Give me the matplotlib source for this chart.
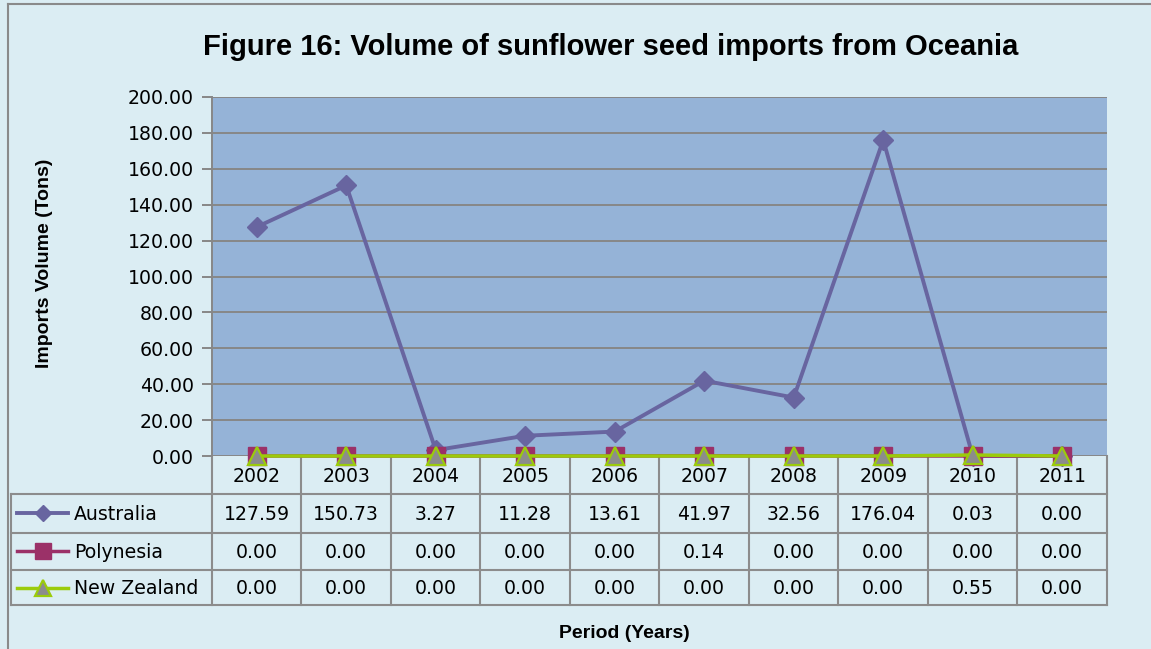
import matplotlib
matplotlib.use("Agg")
import matplotlib.pyplot as plt
from matplotlib.lines import Line2D
import numpy as np

# ---- data ----
years = ["2002", "2003", "2004", "2005", "2006", "2007", "2008", "2009", "2010", "2011"]
australia = [127.59, 150.73, 3.27, 11.28, 13.61, 41.97, 32.56, 176.04, 0.03, 0.00]
polynesia = [0.00, 0.00, 0.00, 0.00, 0.00, 0.14, 0.00, 0.00, 0.00, 0.00]
new_zealand = [0.00, 0.00, 0.00, 0.00, 0.00, 0.00, 0.00, 0.00, 0.55, 0.00]
series_names = ["Australia", "Polynesia", "New Zealand"]
y_ticks = [0, 20, 40, 60, 80, 100, 120, 140, 160, 180, 200]

title = "Figure 16: Volume of sunflower seed imports from Oceania"
ylabel = "Imports Volume (Tons)"
xlabel = "Period (Years)"

# ---- style ----
W, H = 1151, 649
BG = "#DBEDF3"
PLOT_BG = "#95B3D7"
GRID = "#878787"
C_AUS = "#6865A0"
C_POL = "#9B3168"
C_NZ = "#9BCB0B"
C_TRI = "#8C8C8C"
FONT = ["Liberation Sans", "DejaVu Sans"]
NUMFONT = ["DejaVu Sans"]
FS = 13.6
plt.rcParams["font.family"] = NUMFONT

fig = plt.figure(figsize=(W / 100, H / 100), dpi=100, facecolor=BG)

# pixel geometry
px_l, px_r, px_t, px_b = 212, 1107, 97, 456
ax = fig.add_axes([px_l / W, 1 - px_b / H, (px_r - px_l) / W, (px_b - px_t) / H])
ax.set_facecolor(PLOT_BG)
x = np.arange(len(years))
ax.set_xlim(-0.5, len(years) - 0.5)
ax.set_ylim(0, 200)
ax.set_yticks(y_ticks)
ax.set_yticklabels([f"{v:.2f}" for v in y_ticks], fontsize=FS)
ax.set_xticks([])
ax.yaxis.grid(True, color=GRID, linewidth=1.4)
ax.set_axisbelow(True)
ax.tick_params(axis="y", length=7, width=1.4, color=GRID, pad=6)
for s in ["top", "right", "bottom"]:
    ax.spines[s].set_visible(False)
ax.spines["left"].set_color(GRID)
ax.spines["left"].set_linewidth(1.4)

ax.plot(x, australia, color=C_AUS, lw=2.8, marker="D", ms=9.8, mfc=C_AUS, mec=C_AUS,
        clip_on=False, zorder=5)
ax.plot(x, polynesia, color=C_POL, lw=2.5, marker="s", ms=12.5, mfc=C_POL, mec=C_POL,
        clip_on=False, zorder=6)
ax.plot(x, new_zealand, color=C_NZ, lw=2.5, marker="^", ms=12.5, mfc=C_TRI, mec=C_NZ,
        mew=1.6, clip_on=False, zorder=7)

# ---- overlay axes in pixel coordinates ----
ov = fig.add_axes([0, 0, 1, 1], zorder=-1)
ov.set_xlim(0, W)
ov.set_ylim(H, 0)
ov.axis("off")
ov.patch.set_alpha(0)

# figure border (top & left)
ov.plot([8, W + 5], [4, 4], color="#8A8A8A", lw=1.5)
ov.plot([8, 8], [4, H + 5], color="#8A8A8A", lw=1.5)

fig.text(611 / W, 1 - 47 / H, title, ha="center", va="center", fontsize=21,
         fontweight="bold", family=FONT)
fig.text(45 / W, 1 - 263 / H, ylabel, ha="center", va="center", rotation=90,
         fontsize=14, fontweight="bold", family=FONT)
fig.text(624 / W, 1 - 633 / H, xlabel, ha="center", va="center", fontsize=14,
         fontweight="bold", family=FONT)

# data table
ncol = len(years)
colw = (px_r - px_l) / ncol
row_y = [456, 494, 532.5, 570, 605]
tlc = "#8C8C8C"
tlw = 1.5
left_tab = 11
for yy in row_y[1:]:
    ov.plot([left_tab, px_r], [yy, yy], color=tlc, lw=tlw, zorder=1)
for i in range(ncol + 1):
    xx = px_l + i * colw
    ov.plot([xx, xx], [row_y[0], row_y[-1]], color=tlc, lw=tlw, zorder=1)
ov.plot([left_tab, left_tab], [row_y[1], row_y[-1]], color=tlc, lw=tlw, zorder=1)

for i, yr in enumerate(years):
    ov.text(px_l + (i + 0.5) * colw, (row_y[0] + row_y[1]) / 2 + 1, yr,
            ha="center", va="center", fontsize=FS)

rows = [australia, polynesia, new_zealand]
styles = [
    dict(color=C_AUS, marker="D", ms=8.5, mfc=C_AUS, mec=C_AUS, lw=2.8, mew=1),
    dict(color=C_POL, marker="s", ms=11.5, mfc=C_POL, mec=C_POL, lw=2.5, mew=1),
    dict(color=C_NZ, marker="^", ms=12, mfc=C_TRI, mec=C_NZ, mew=1.6, lw=2.5),
]
for r, (name, vals, st) in enumerate(zip(series_names, rows, styles)):
    yc = (row_y[r + 1] + row_y[r + 2]) / 2
    ov.add_line(Line2D([17, 68], [yc, yc], color=st["color"], lw=st["lw"]))
    ov.plot([43], [yc], linestyle="none", marker=st["marker"], ms=st["ms"],
            mfc=st["mfc"], mec=st["mec"], mew=st["mew"])
    ov.text(74, yc + 1, name, ha="left", va="center", fontsize=FS)
    for i, v in enumerate(vals):
        ov.text(px_l + (i + 0.5) * colw, yc + 1, f"{v:.2f}", ha="center",
                va="center", fontsize=FS)

fig.savefig("out.png", dpi=100, facecolor=BG)
